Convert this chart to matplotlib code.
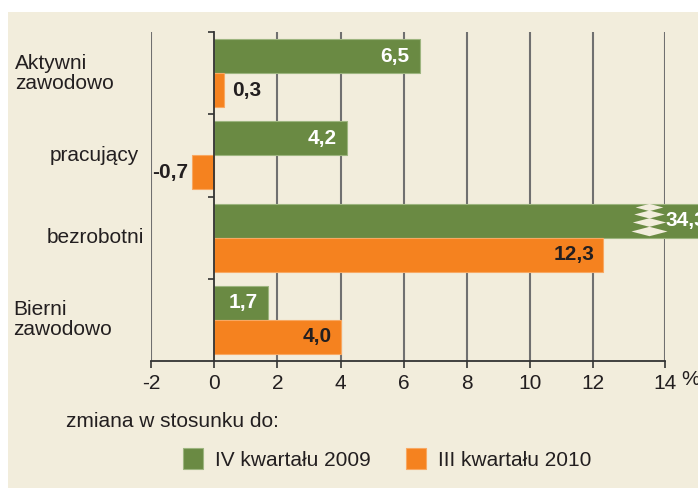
import numpy as np
import matplotlib
matplotlib.use("Agg")
import matplotlib.pyplot as plt
from matplotlib.patches import Rectangle

plt.rcParams['font.family'] = ['Liberation Sans', 'DejaVu Sans']

# ---------------- data ----------------
categories = ["Aktywni\nzawodowo", "pracujący", "bezrobotni", "Bierni\nzawodowo"]
series_names = ["IV kwartału 2009", "III kwartału 2010"]
vals_2009 = [6.5, 4.2, 34.3, 1.7]
vals_2010 = [0.3, -0.7, 12.3, 4.0]
tick_values = [-2, 0, 2, 4, 6, 8, 10, 12, 14]
tick_labels = ["-2", "0", "2", "4", "6", "8", "10", "12", "14"]
axis_label_unit = "%"
legend_title = "zmiana w stosunku do:"

# ---------------- style ----------------
W, H = 698, 488
BG = "#F2EDDC"
GREEN = "#6A8A43"
GREEN_EDGE = "#9DB57F"
ORANGE = "#F5821F"
ORANGE_EDGE = "#F8A862"
TXT = "#231F20"
GRID = "#707070"
FS = 15

fig = plt.figure(figsize=(W / 100, H / 100), dpi=100)
fig.patch.set_facecolor("white")
fig.add_artist(Rectangle((8 / W, 0), 1, 1 - 12 / H, transform=fig.transFigure,
                         facecolor=BG, edgecolor="none", zorder=-5))

ax_left, ax_right, ax_top, ax_bot = 151, 665, 32, 361
ax = fig.add_axes([ax_left / W, 1 - ax_bot / H, (ax_right - ax_left) / W, (ax_bot - ax_top) / H])
ax.set_facecolor("none")

xmax_vis = 14.27  # last (broken) tick sits a bit further right
ax.set_xlim(-2, xmax_vis)
ax.set_ylim(len(categories) - 0.5, -0.5)

y = np.arange(len(categories))
bh = 0.415
off = 0.207

bars_g = ax.barh(y - off, vals_2009, height=bh, color=GREEN, edgecolor=GREEN_EDGE,
                 linewidth=0.8, zorder=3)
bars_o = ax.barh(y + off, vals_2010, height=bh, color=ORANGE, edgecolor=ORANGE_EDGE,
                 linewidth=0.8, zorder=3)
for b, v in zip(bars_g, vals_2009):
    if v > xmax_vis:
        b.set_clip_on(False)

def fmt(v):
    return f"{v:.1f}".replace(".", ",")

# value labels
for yi, v in zip(y - off, vals_2009):
    if v > xmax_vis:
        ax.annotate(fmt(v), (xmax_vis, yi), xytext=(0, 0), textcoords="offset points",
                    ha="left", va="center", color="white", fontsize=FS, fontweight="bold",
                    annotation_clip=False, zorder=6)
        # break marker
        ys = yi + np.array([-0.165, -0.075, 0.02, 0.125])
        xs = np.full_like(ys, xmax_vis - 0.5)
        verts = [(-1, 0), (0, 0.26), (1, 0), (0, -0.26), (-1, 0)]
        for k, yy in enumerate(ys):
            ax.plot([xs[k]], [yy], marker=verts, markersize=20 + 2 * k, color=BG,
                    markeredgecolor="none", zorder=5, clip_on=False)
    else:
        ax.annotate(fmt(v), (v, yi), xytext=(-7, 0), textcoords="offset points",
                    ha="right", va="center", color="white", fontsize=FS, fontweight="bold",
                    zorder=6)

for yi, v in zip(y + off, vals_2010):
    if abs(v) < 1:
        if v >= 0:
            ax.annotate(fmt(v), (v, yi), xytext=(6, 0), textcoords="offset points",
                        ha="left", va="center", color=TXT, fontsize=FS, fontweight="bold", zorder=6)
        else:
            ax.annotate(fmt(v), (v, yi), xytext=(-3, 0), textcoords="offset points",
                        ha="right", va="center", color=TXT, fontsize=FS, fontweight="bold", zorder=6)
    else:
        ax.annotate(fmt(v), (v, yi), xytext=(-6, 0), textcoords="offset points",
                    ha="right", va="center", color=TXT, fontsize=FS, fontweight="bold", zorder=6)

# gridlines (vertical) at ticks except 0
tick_pos = list(tick_values[:-1]) + [xmax_vis]
for t in tick_pos:
    if t != 0:
        ax.axvline(t, color=GRID, lw=1.5, zorder=1)

ax.set_xticks(tick_pos)
ax.set_xticklabels(tick_labels, fontsize=FS, color=TXT)
ax.tick_params(axis="x", direction="out", length=5, width=1.2, color="#333333", pad=4.5)
fig.text(681 / W, 1 - 385 / H, axis_label_unit, ha="left", va="baseline",
         fontsize=FS, color=TXT)

# zero line as left spine with category boundary ticks
for s in ["top", "right"]:
    ax.spines[s].set_visible(False)
ax.spines["left"].set_position(("data", 0))
ax.spines["left"].set_color("#333333")
ax.spines["left"].set_linewidth(1.3)
ax.spines["left"].set_zorder(4)
ax.spines["bottom"].set_color("#333333")
ax.spines["bottom"].set_linewidth(1.3)
ax.set_yticks(np.arange(len(categories)) - 0.5)
ax.set_yticklabels([])
ax.tick_params(axis="y", direction="out", length=4, width=1.2, color="#333333")

# category labels
label_x = [15, 50, 47, 13]
for yi, lab, lx in zip(y, categories, label_x):
    ax.annotate(lab, xy=(lx / W, yi), xycoords=("figure fraction", "data"),
                ha="left", va="center", fontsize=FS, color=TXT, linespacing=1.07,
                annotation_clip=False)

# legend
fig.text(66 / W, 1 - 427 / H, legend_title, fontsize=FS, color=TXT, ha="left", va="baseline")
handles = [Rectangle((0, 0), 1, 1, facecolor=GREEN, edgecolor=GREEN_EDGE, lw=0.8),
           Rectangle((0, 0), 1, 1, facecolor=ORANGE, edgecolor=ORANGE_EDGE, lw=0.8)]
fig.legend(handles, series_names, loc="center left", bbox_to_anchor=(183 / W, 1 - 459 / H),
           ncol=2, frameon=False, fontsize=FS, handlelength=0.96, handleheight=1.15,
           handletextpad=0.58, columnspacing=1.7, borderpad=0, borderaxespad=0,
           labelcolor=TXT)

fig.savefig("out.png", dpi=100, facecolor=fig.get_facecolor())
